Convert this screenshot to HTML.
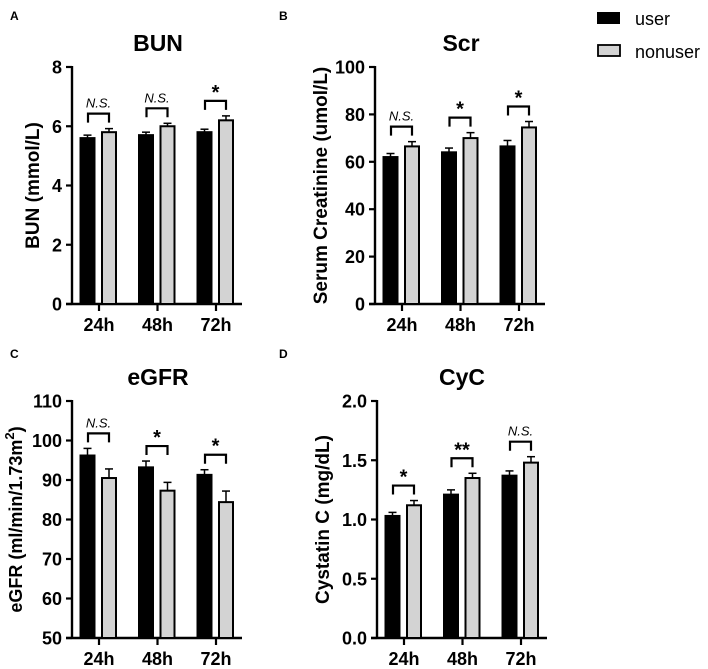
<!DOCTYPE html>
<html><head><meta charset="utf-8"><style>
body{margin:0;background:#fff;}
svg{display:block;font-family:"Liberation Sans",Arial,sans-serif;}
</style></head><body>
<svg id="fig" width="708" height="669" viewBox="0 0 708 669">
<text x="10" y="20" font-size="12" font-weight="bold">A</text>
<text x="279" y="20" font-size="12" font-weight="bold">B</text>
<text x="10" y="358" font-size="12" font-weight="bold">C</text>
<text x="279" y="358" font-size="12" font-weight="bold">D</text>
<g>
<rect x="597" y="12" width="23" height="12" fill="#000"/>
<text x="635" y="25" font-size="18">user</text>
<rect x="598" y="45" width="22" height="11" fill="#d3d3d3" stroke="#000" stroke-width="1.8"/>
<text x="635" y="58" font-size="18">nonuser</text>
</g>
</svg>
<script>
const categories=["24h","48h","72h"];
const bunUser=[5.6,5.7,5.8], bunUserErr=[0.1,0.1,0.1];
const bunNon=[5.8,6.0,6.2], bunNonErr=[0.12,0.1,0.15];
const bunSig=["N.S.","N.S.","*"];
const bunTicks=[0,2,4,6,8];
const scrUser=[62,64,66.5], scrUserErr=[1.5,1.8,2.5];
const scrNon=[66.5,70,74.5], scrNonErr=[2,2.3,2.5];
const scrSig=["N.S.","*","*"];
const scrTicks=[0,20,40,60,80,100];
const egfrUser=[96.2,93.2,91.3], egfrUserErr=[1.8,1.6,1.3];
const egfrNon=[90.5,87.3,84.4], egfrNonErr=[2.3,2.1,2.8];
const egfrSig=["N.S.","*","*"];
const egfrTicks=[50,60,70,80,90,100,110];
const cycUser=[1.03,1.21,1.37], cycUserErr=[0.03,0.04,0.04];
const cycNon=[1.12,1.35,1.48], cycNonErr=[0.04,0.04,0.05];
const cycSig=["*","**","N.S."];
const cycTicks=["0.0","0.5","1.0","1.5","2.0"];

const NS="http://www.w3.org/2000/svg";
const svg=document.getElementById('fig');
function mk(tag,attrs,parent,txt){const e=document.createElementNS(NS,tag);for(const k in attrs)e.setAttribute(k,attrs[k]);if(txt!==undefined)e.textContent=txt;(parent||svg).appendChild(e);return e;}

function panel(p){
  const g=mk('g',{});
  
  
  const ticks=p.ticks.map(Number);
  const ymin=ticks[0], ymax=ticks[ticks.length-1];
  const y=v=>p.bot-(v-ymin)/(ymax-ymin)*(p.bot-p.top);
  const x=i=>p.x0+27+i*58.5;
  const t=mk('text',{x:p.tx,y:p.top-16,'font-size':23,'font-weight':'bold','text-anchor':'middle'},g,p.title);
  
  
  const ya=mk('line',{x1:p.x0,y1:p.top-1,x2:p.x0,y2:p.bot+1,stroke:'#000','stroke-width':2.4},g);
  
  
  const xa=mk('line',{x1:p.x0-6,y1:p.bot,x2:p.x0+170,y2:p.bot,stroke:'#000','stroke-width':2.4},g);
  
  
  p.ticks.forEach(tv=>{
    const yy=y(Number(tv));
    mk('line',{x1:p.x0-6,y1:yy,x2:p.x0,y2:yy,stroke:'#000','stroke-width':2.2},g);
    const tl=mk('text',{x:p.x0-10,y:yy+6.5,'font-size':18,'font-weight':'bold','text-anchor':'end'},g,tv);
    
    
  });
  const yt=mk('text',{x:0,y:0,'font-size':p.ytfs||19,'font-weight':'bold','text-anchor':'middle',transform:`translate(${p.ytx},${(p.top+p.bot)/2}) rotate(-90)`},g);
  
  
  yt.innerHTML=p.ytitle;
  categories.forEach((c,i)=>{
    const cx=x(i);
    mk('line',{x1:cx,y1:p.bot,x2:cx,y2:p.bot+7,stroke:'#000','stroke-width':2.2},g);
    const xl=mk('text',{x:cx,y:p.bot+27,'font-size':18,'font-weight':'bold','text-anchor':'middle'},g,c);
    
    
    const series=[[p.u[i],p.ue[i],'#000',cx-11.5],[p.n[i],p.ne[i],'#d3d3d3',cx+10]];
    series.forEach((s,k)=>{
      const bx=s[3], top=y(s[0]), et=y(s[0]+s[1]);
      mk('line',{x1:bx,y1:top,x2:bx,y2:et,stroke:'#000','stroke-width':1.5},g);
      mk('line',{x1:bx-4,y1:et,x2:bx+4,y2:et,stroke:'#000','stroke-width':1.5},g);
      const r=mk('rect',{x:bx-7,y:top,width:14,height:p.bot-top,fill:s[2],stroke:'#000','stroke-width':2},g);
      
      
    });
    const mx=Math.min(y(p.u[i]+p.ue[i]),y(p.n[i]+p.ne[i]));
    const bt=mx-15, bl=cx-11, br=cx+10;
    const br_=mk('path',{d:`M${bl},${bt+9}V${bt}H${br}V${bt+9}`,fill:'none',stroke:'#000','stroke-width':2.2},g);
    
    
    const s=p.sig[i], isNS=s==='N.S.';
    const st=mk('text',{x:(bl+br)/2,y:isNS?bt-6:bt-2,'font-size':isNS?13:20,'font-style':isNS?'italic':'normal','font-weight':isNS?'normal':'bold','text-anchor':'middle'},g,s);
    
    
  });
}
panel({name:'bun',title:'BUN',tx:158,x0:72,top:67,bot:304,ticks:bunTicks,u:bunUser,ue:bunUserErr,n:bunNon,ne:bunNonErr,sig:bunSig,ytx:39,ytitle:'BUN (mmol/L)'});
panel({name:'scr',title:'Scr',tx:461,x0:375,top:67,bot:304,ticks:scrTicks,u:scrUser,ue:scrUserErr,n:scrNon,ne:scrNonErr,sig:scrSig,ytx:327,ytitle:'Serum Creatinine (umol/L)'});
panel({name:'egfr',title:'eGFR',tx:158,x0:72,top:401,bot:638,ticks:egfrTicks,u:egfrUser,ue:egfrUserErr,n:egfrNon,ne:egfrNonErr,sig:egfrSig,ytx:22,ytfs:18,ytitle:'eGFR (ml/min/1.73m<tspan dy="-8" font-size="13">2</tspan><tspan dy="8">)</tspan>'});
panel({name:'cyc',title:'CyC',tx:462,x0:377,top:401,bot:638,ticks:cycTicks,u:cycUser,ue:cycUserErr,n:cycNon,ne:cycNonErr,sig:cycSig,ytx:329,ytitle:'Cystatin C (mg/dL)'});
</script>
</body></html>
